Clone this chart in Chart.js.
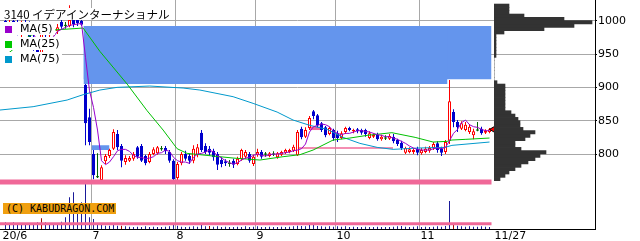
<!DOCTYPE html>
<html lang="ja">
<head>
<meta charset="utf-8">
<title>3140 イデアインターナショナル</title>
<script src="https://cdn.jsdelivr.net/npm/chart.js@4/dist/chart.umd.min.js"></script>
<style>
  html, body { margin: 0; padding: 0; background: #fff; }
  #wrap { position: relative; width: 640px; height: 241px; overflow: hidden; }
  #wrap canvas { position: absolute; top: 0; }
  #main { left: 0; }
  #profile { left: 494px; }
  .lbl { position: absolute; background: #fff; color: #000; white-space: nowrap; }
  #title { left: 4px; top: 8px; font: 11.5px "Noto Sans CJK JP", sans-serif; line-height: 12px; padding-right: 2px; }
  .leg { left: 0; height: 13px; padding: 0 2px 0 20px; font: 11px "DejaVu Sans", sans-serif; line-height: 13px; }
  .leg i { position: absolute; left: 5px; top: 4px; width: 7px; height: 7px; }
  #copy { left: 3px; top: 203px; width: 110px; height: 11px; padding-left: 3px; background: #f0a010; font: 10px "DejaVu Sans Mono", monospace; line-height: 11px; }
</style>
</head>
<body>
<div id="wrap">
  <canvas id="main" width="640" height="241"></canvas>
  <canvas id="profile" width="101" height="229"></canvas>
  <div id="title" class="lbl">3140 イデアインターナショナル</div>
  <div class="lbl leg" style="top:22px"><i style="background:#9900cc"></i>MA(5)</div>
  <div class="lbl leg" style="top:37px"><i style="background:#00c800"></i>MA(25)</div>
  <div class="lbl leg" style="top:52px"><i style="background:#0099cc"></i>MA(75)</div>
  <div id="copy" class="lbl">(C) KABUDRAGON.COM</div>
</div>
<script>
// daily candles, 2020/6/1 .. 2020/11/27 (one entry per trading day)
const openP = [1000, 992, 1000, 995, 984, 998, 986, 975, 958, 950,
  982, 978, 982, 984, 998, 993, 992, 1001, 1002, 1000,
  904, 855, 800, 766, 761, 789, 797, 808, 830, 812,
  788, 790, 793, 810, 812, 797, 788, 800, 801, 808,
  809, 803, 790, 764, 786, 800, 797, 790, 798, 832,
  812, 808, 805, 800, 791, 789, 786, 790, 785, 792,
  796, 800, 785, 798, 803, 800, 797, 800, 795, 799,
  802, 803, 805, 798, 838, 826, 839, 864, 858, 846,
  840, 830, 836, 831, 824, 833, 839, 834, 837, 836,
  836, 824, 826, 829, 822, 824, 823, 826, 821, 817,
  802, 803, 803, 808, 801, 803, 805, 809, 816, 808,
  803, 820, 863, 848, 838, 836, 833, 828, 836, 838,
  832, 833];
const highP = [1006, 1004, 1008, 1003, 1000, 1004, 999, 985, 968, 985,
  995, 992, 993, 995, 1003, 998, 1023, 1008, 1006, 1004,
  905, 868, 806, 801, 783, 800, 808, 837, 836, 815,
  798, 797, 803, 812, 815, 799, 803, 810, 812, 812,
  812, 806, 792, 788, 803, 805, 800, 813, 815, 836,
  816, 812, 808, 803, 795, 792, 791, 793, 796, 808,
  806, 803, 799, 808, 806, 803, 803, 804, 803, 805,
  808, 808, 814, 836, 841, 840, 857, 866, 860, 848,
  842, 841, 838, 835, 834, 841, 841, 838, 839, 838,
  838, 834, 831, 832, 829, 828, 830, 830, 823, 820,
  811, 810, 809, 811, 809, 811, 812, 818, 819, 811,
  821, 911, 867, 851, 849, 848, 845, 838, 848, 841,
  837, 839];
const lowP = [985, 980, 988, 978, 975, 980, 970, 955, 940, 945,
  972, 970, 978, 980, 988, 988, 990, 990, 992, 992,
  813, 813, 762, 764, 760, 785, 794, 806, 806, 780,
  784, 788, 790, 793, 788, 783, 786, 798, 799, 805,
  800, 787, 760, 760, 783, 790, 785, 786, 795, 803,
  800, 798, 790, 776, 780, 782, 781, 779, 783, 790,
  793, 787, 782, 796, 793, 796, 795, 797, 793, 797,
  800, 801, 803, 797, 822, 824, 836, 852, 840, 833,
  825, 828, 820, 818, 822, 830, 834, 831, 831, 829,
  826, 822, 824, 820, 820, 821, 821, 816, 812, 806,
  800, 801, 800, 798, 799, 801, 802, 806, 802, 797,
  800, 815, 840, 833, 836, 834, 830, 822, 834, 829,
  830, 831];
const closeP = [990, 998, 992, 982, 996, 985, 975, 960, 950, 980,
  978, 985, 989, 990, 991, 993, 1001, 995, 996, 994,
  846, 818, 768, 766, 780, 797, 806, 833, 810, 790,
  794, 794, 800, 796, 790, 786, 800, 807, 810, 808,
  804, 790, 762, 785, 800, 793, 790, 808, 810, 806,
  803, 802, 795, 784, 785, 786, 786, 784, 793, 806,
  803, 790, 796, 803, 796, 800, 801, 800, 801, 803,
  806, 806, 811, 833, 825, 836, 854, 857, 843, 836,
  828, 839, 824, 824, 831, 839, 836, 836, 834, 832,
  830, 831, 829, 822, 826, 824, 827, 819, 815, 809,
  809, 807, 806, 802, 806, 808, 809, 815, 806, 802,
  818, 879, 848, 840, 846, 844, 841, 834, 836, 831,
  835, 837];
// volume, thousand shares
const volume = [134, 120, 134, 86, 80, 100, 100, 80, 134, 214,
  134, 100, 80, 100, 146, 234, 634, 734, 320, 534,
  940, 234, 200, 120, 80, 66, 66, 80, 66, 66,
  54, 46, 40, 46, 40, 54, 40, 46, 40, 40,
  46, 54, 120, 66, 46, 40, 46, 54, 46, 80,
  54, 60, 46, 54, 40, 46, 40, 40, 46, 40,
  54, 40, 46, 54, 40, 40, 46, 40, 40, 46,
  40, 46, 54, 66, 60, 54, 80, 80, 60, 54,
  46, 54, 46, 54, 46, 54, 40, 46, 40, 40,
  46, 40, 40, 46, 40, 40, 40, 46, 54, 60,
  46, 40, 46, 54, 40, 46, 40, 46, 54, 46,
  60, 560, 120, 66, 54, 46, 54, 46, 46, 54,
  46, 40];
const redVolumeDays = [9, 29, 51, 112];

const ma5 = [985, 989, 992, 990, 992, 991, 986, 980, 969, 970,
  969, 970, 976, 984, 987, 990, 993, 994, 995, 996,
  945, 895, 870, 836, 790, 784, 788, 796, 805, 807,
  807, 804, 798, 795, 795, 793, 794, 796, 801, 802,
  806, 804, 795, 790, 788, 788, 786, 795, 800, 801,
  803, 806, 803, 798, 794, 790, 787, 785, 787, 791,
  794, 795, 798, 800, 798, 797, 799, 800, 800, 801,
  802, 803, 805, 806, 808, 815, 833, 841, 843, 845,
  844, 841, 834, 831, 829, 831, 831, 833, 835, 835,
  834, 833, 831, 829, 828, 826, 826, 824, 822, 819,
  816, 812, 809, 807, 806, 806, 806, 808, 809, 808,
  810, 820, 831, 837, 847, 851, 844, 841, 840, 837,
  835, 835];
// MA25 / MA75 at these day positions
const ma25Days = [-1.4, 1.1, 6.1, 12, 19.4, 23.6, 30.4, 35.4, 39.4, 42.9, 45.4, 48.6, 56.9, 63.6,
  69.4, 73.6, 76.9, 81.9, 86.1, 90.4, 96.6, 102.4, 106.9, 110.4, 111.6, 114.9, 121];
const ma25 = [945, 953, 978, 986, 989, 954, 905, 865, 836, 808, 801, 799, 794, 791,
  796, 799, 806, 821, 824, 828, 832, 825, 818, 819, 821, 822, 824];
const ma75Days = [-1.4, 6.9, 15.4, 19.4, 23.6, 27.9, 36.1, 44.4, 48.6, 56.9, 61.9, 67.9,
  71.9, 76.1, 80.4, 84.4, 88.6, 92.9, 96.9, 103.1, 109.9, 111.6, 121];
const ma75 = [866, 871, 881, 889, 896, 900, 902, 899, 896, 886, 876, 863,
  851, 843, 837, 825, 816, 810, 807, 809, 810, 813, 818];

// unfilled gaps (windows): [fromDay, toDay, low, high]
const downGaps = [[19.5, 110.5, 905, 992], [19.5, 121.5, 912, 992], [21.5, 26, 806, 813]];
const upGaps = [[76.1, 79.4, 836, 841], [73.1, 96.9, 808, 810]];
const supportPrice = 758;
const volumeLine = 106;

// price-by-volume histogram on the right
const profileLevels = [762.5, 767.5, 772.5, 777.5, 782.5, 787.5, 792.5, 797.5, 802.5, 807.5,
  812.5, 817.5, 822.5, 827.5, 832.5, 837.5, 842.5, 847.5, 852.5, 857.5,
  862.5, 867.5, 872.5, 877.5, 882.5, 887.5, 892.5, 897.5, 902.5, 907.5,
  912.5, 917.5, 922.5, 927.5, 932.5, 937.5, 942.5, 947.5, 952.5, 957.5,
  962.5, 967.5, 972.5, 977.5, 982.5, 987.5, 992.5, 997.5, 1002.5, 1007.5,
  1012.5, 1017.5, 1022.5];
const profileVolume = [6, 11, 15, 21, 27, 34, 41, 46, 52, 27,
  21, 21, 31, 36, 41, 29, 26, 26, 24, 21,
  17, 11, 11, 11, 11, 11, 11, 11, 11, 3,
  0, 0, 0, 0, 0, 0, 0, 2, 2, 2,
  2, 2, 2, 2, 10, 50, 80, 98, 70, 30,
  15, 15, 15];

const monthTicks = [-1, 21.5, 42.5, 62.5, 82.5, 103.5, 122];
const monthLabels = ['20/6', '7', '8', '9', '10', '11', '11/27'];
const priceTicks = [800, 850, 900, 950, 1000];

// axis ranges: 4px per day, 1.5 yen per px
const xMin = -1.375, xMax = 147.375;
const priceMin = 687.55, priceMax = 1031.05;
const volMax = 4580;

const UP = '#ff0000', DOWN = '#0000cc', FLAT = '#006400';
const PINK = '#f06898', GAPBLUE = '#6495ed', GRID = '#a8a8a8';

const days = closeP.map((_, i) => i);
const candleColor = i => closeP[i] > openP[i] ? UP : (closeP[i] < openP[i] ? DOWN : FLAT);

const wickData = days.map(i => ({x: i, y: [lowP[i], highP[i]]}));
const bodyData = days.map(i => {
  const lo = Math.min(openP[i], closeP[i]), hi = Math.max(openP[i], closeP[i]);
  return {x: i, y: hi - lo < 1 ? [lo - 0.75, hi + 0.75] : [lo, hi]};
});

function rect(g, color, order) {
  return {
    type: 'line', order: order,
    data: [{x: g[0], y: g[3]}, {x: g[1], y: g[3]}],
    borderColor: 'rgba(0,0,0,0)', borderWidth: 0, pointRadius: 0,
    backgroundColor: color, fill: {value: g[2]}
  };
}

const datasets = [
  {
    type: 'scatter', order: 0,
    data: [{x: days.length, y: closeP[closeP.length - 1]}],
    pointStyle: 'triangle', rotation: -90, pointRadius: 4,
    backgroundColor: UP, borderColor: '#000', borderWidth: 1
  },
  {
    type: 'line', order: 1,
    data: [{x: xMin - 1, y: supportPrice}, {x: days.length - 0.5, y: supportPrice}],
    borderColor: PINK, borderWidth: 5, pointRadius: 0
  },
  {
    type: 'line', order: 1, yAxisID: 'yv',
    data: [{x: xMin - 1, y: volumeLine}, {x: days.length - 0.5, y: volumeLine}],
    borderColor: PINK, borderWidth: 3, pointRadius: 0
  },
  {
    type: 'line', order: 2, label: 'MA(5)',
    data: days.map(i => ({x: i, y: ma5[i]})),
    borderColor: '#9900cc', borderWidth: 1, pointRadius: 0
  },
  {
    type: 'line', order: 2, label: 'MA(25)',
    data: ma25Days.map((d, k) => ({x: d, y: ma25[k]})),
    borderColor: '#00c000', borderWidth: 1, pointRadius: 0
  },
  {
    type: 'line', order: 2, label: 'MA(75)',
    data: ma75Days.map((d, k) => ({x: d, y: ma75[k]})),
    borderColor: '#0099cc', borderWidth: 1, pointRadius: 0
  },
  {
    type: 'bar', order: 3, data: bodyData,
    barThickness: 3, grouped: false, borderSkipped: false, inflateAmount: 0,
    backgroundColor: c => candleColor(c.dataIndex) === UP ? '#fff' : candleColor(c.dataIndex),
    borderColor: c => candleColor(c.dataIndex),
    borderWidth: c => candleColor(c.dataIndex) === FLAT ? 0 : 1
  },
  {
    type: 'bar', order: 4, data: wickData,
    barThickness: 1, grouped: false, borderSkipped: false, inflateAmount: 0, borderWidth: 0,
    backgroundColor: c => candleColor(c.dataIndex)
  },
  {
    type: 'bar', order: 5, yAxisID: 'yv',
    data: days.map(i => ({x: i, y: volume[i]})),
    barThickness: 1, grouped: false, inflateAmount: 0, borderWidth: 0,
    backgroundColor: c => redVolumeDays.includes(c.dataIndex) ? '#a00000' : '#1a1a99'
  }
];
downGaps.forEach(g => datasets.push(rect(g, GAPBLUE, 6)));
upGaps.forEach(g => datasets.push(rect(g, PINK, 6)));

const tickFont = {family: 'DejaVu Sans', size: 11};
const noPad = s => { s.paddingTop = 0; s.paddingBottom = 0; s.paddingLeft = 0; s.paddingRight = 0; };

new Chart(document.getElementById('main'), {
  type: 'bar',
  data: {datasets: datasets},
  options: {
    responsive: false, animation: false, devicePixelRatio: 1, events: [],
    layout: {padding: 0, autoPadding: false},
    plugins: {legend: {display: false}, tooltip: {enabled: false}},
    scales: {
      x: {
        type: 'linear', min: xMin, max: xMax, offset: false,
        afterBuildTicks: s => { s.ticks = monthTicks.map(v => ({value: v})); },
        afterFit: s => { s.height = 12; noPad(s); },
        ticks: {
          autoSkip: false, maxRotation: 0, minRotation: 0, align: 'start', labelOffset: 1,
          padding: 1, color: '#000', font: tickFont,
          callback: (v, i) => monthLabels[i]
        },
        grid: {
          offset: false, drawTicks: false,
          color: c => (c.index > 0 && c.index < monthTicks.length - 1) ? GRID : 'rgba(0,0,0,0)'
        },
        border: {display: true, color: '#000'}
      },
      y: {
        position: 'right', min: priceMin, max: priceMax,
        afterBuildTicks: s => { s.ticks = priceTicks.map(v => ({value: v})); },
        afterFit: s => { s.width = 45; noPad(s); },
        ticks: {color: '#000', padding: 1, font: tickFont, callback: v => v},
        grid: {color: GRID, tickColor: '#000', tickLength: 2},
        border: {display: true, color: '#000'}
      },
      yv: {display: false, min: 0, max: volMax}
    }
  }
});

new Chart(document.getElementById('profile'), {
  type: 'bar',
  data: {
    datasets: [{
      data: profileLevels.map((p, k) => ({x: profileVolume[k], y: p})),
      backgroundColor: '#333333', borderWidth: 0,
      barPercentage: 1, categoryPercentage: 1
    }]
  },
  options: {
    indexAxis: 'y', responsive: false, animation: false, devicePixelRatio: 1, events: [],
    layout: {padding: 0, autoPadding: false},
    plugins: {legend: {display: false}, tooltip: {enabled: false}},
    scales: {
      y: {type: 'linear', min: priceMin, max: priceMax, display: false, offset: false},
      x: {type: 'linear', min: 0, max: 101, display: false}
    }
  }
});
</script>
</body>
</html>
